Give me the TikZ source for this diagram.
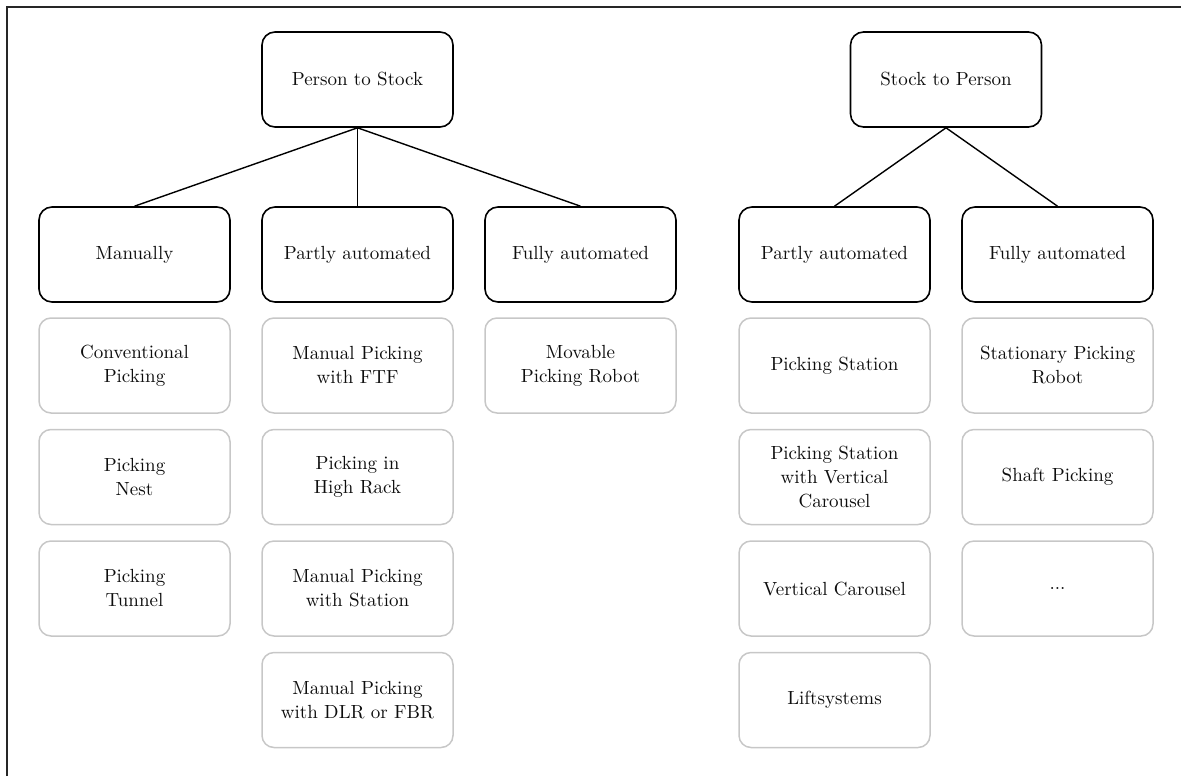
\documentclass[tikz,border=0pt]{standalone}
\usepackage{tikz}
\begin{document}
\begin{tikzpicture}[x=0.5pt,y=-0.5pt,
  every node/.style={font=\fontsize{9.5}{12}\selectfont, text=black!95},
  catbox/.style={draw=black, line width=0.8pt, rounded corners=6.5pt,
    minimum width=95.5pt, minimum height=47.5pt, align=center},
  itembox/.style={draw=black!22, line width=0.75pt, rounded corners=6pt,
    minimum width=95.5pt, minimum height=47.5pt, align=center},
  link/.style={draw=black, line width=0.7pt}]
\useasboundingbox (0,0) rectangle (1181,776);
% frame lines on the left and top
\draw[line width=1pt, black!85] (7,776) -- (7,7) -- (1181,7);

% Person to Stock tree
\node[catbox] (pts) at (357.5,79.5) {Person to Stock};
\node[catbox] (man) at (134.5,254.5) {Manually};
\node[catbox] (pa1) at (357.5,254.5) {Partly automated};
\node[catbox] (fa1) at (580.5,254.5) {Fully automated};
\draw[link] (pts.south) -- (man.north);
\draw[link] (pts.south) -- (pa1.north);
\draw[link] (pts.south) -- (fa1.north);

\node[itembox] (m1) at (134.5,365.5) {Conventional\\Picking};
\node[itembox] (m2) at (134.5,477) {Picking\\Nest};
\node[itembox] (m3) at (134.5,588.5) {Picking\\Tunnel};

\node[itembox] (p1) at (357.5,365.5) {Manual Picking\\with FTF};
\node[itembox] (p2) at (357.5,477) {Picking in\\High Rack};
\node[itembox] (p3) at (357.5,588.5) {Manual Picking\\with Station};
\node[itembox] (p4) at (357.5,700) {Manual Picking\\with DLR or FBR};

\node[itembox] (f1) at (580.5,365.5) {Movable\\Picking Robot};

% Stock to Person tree
\node[catbox] (stp) at (946,79.5) {Stock to Person};
\node[catbox] (pa2) at (834.5,254.5) {Partly automated};
\node[catbox] (fa2) at (1057.5,254.5) {Fully automated};
\draw[link] (stp.south) -- (pa2.north);
\draw[link] (stp.south) -- (fa2.north);

\node[itembox] (s1) at (834.5,365.5) {Picking Station};
\node[itembox] (s2) at (834.5,477) {Picking Station\\with Vertical\\Carousel};
\node[itembox] (s3) at (834.5,588.5) {Vertical Carousel};
\node[itembox] (s4) at (834.5,700) {Liftsystems};

\node[itembox] (r1) at (1057.5,365.5) {Stationary Picking\\Robot};
\node[itembox] (r2) at (1057.5,477) {Shaft Picking};
\node[itembox] (r3) at (1057.5,588.5) {...};
\end{tikzpicture}
\end{document}
